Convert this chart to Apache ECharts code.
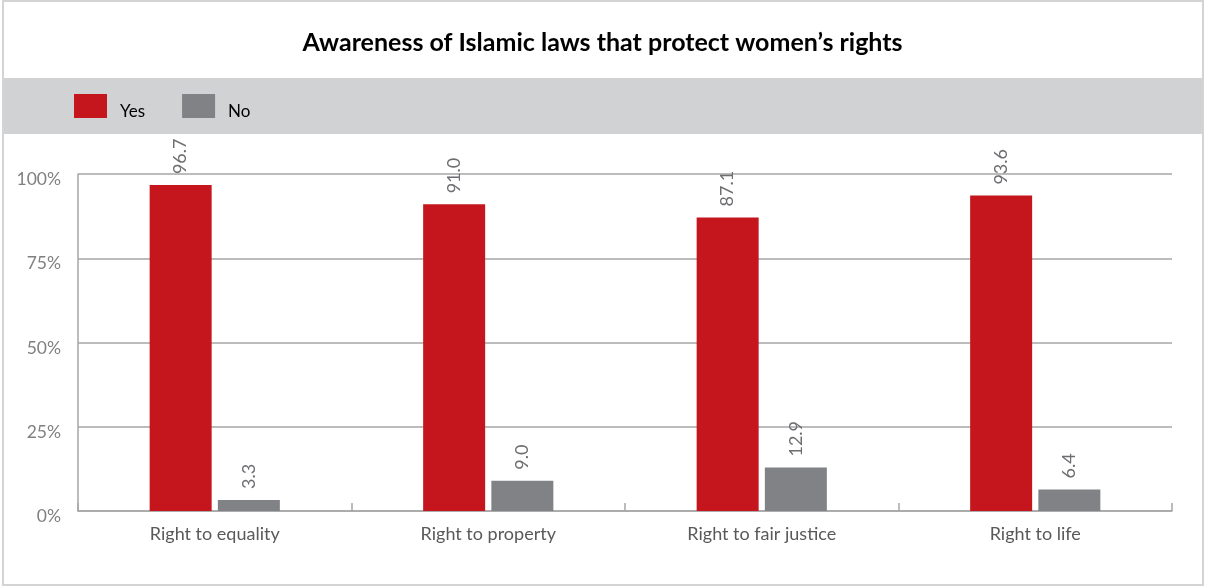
<!DOCTYPE html>
<html>
<head>
<meta charset="utf-8">
<script src="https://cdn.jsdelivr.net/npm/echarts@6/dist/echarts.min.js"></script>
<style>
  html, body { margin: 0; padding: 0; background: #fff; }
  #chart { width: 1205px; height: 587px; }
</style>
</head>
<body>
<div id="chart"></div>
<script>
// Survey: awareness of Islamic laws protecting women's rights (percent of respondents)
const categories = ['Right to equality', 'Right to property', 'Right to fair justice', 'Right to life'];
const yesValues = [96.7, 91.0, 87.1, 93.6];
const noValues = [3.3, 9.0, 12.9, 6.4];
const yTicks = [0, 25, 50, 75, 100];

const FONT = 'Lato, "Open Sans", sans-serif';

const chart = echarts.init(document.getElementById('chart'), null, { renderer: 'canvas' });

const valueLabel = {
  show: true,
  position: 'top',
  rotate: 90,
  align: 'left',
  verticalAlign: 'middle',
  distance: 11,
  color: '#6d6e71',
  fontFamily: FONT,
  fontSize: 18,
  formatter: p => p.value.toFixed(1)
};

chart.setOption({
  backgroundColor: '#ffffff',
  animation: false,
  title: {
    text: 'Awareness of Islamic laws that protect women\u2019s rights',
    left: 'center',
    top: 30,
    padding: 0,
    textStyle: { fontFamily: FONT, fontSize: 25, fontWeight: 'bold', color: '#000000' }
  },
  graphic: [
    {
      type: 'rect', z: -10, silent: true,
      shape: { x: 3, y: 1, width: 1200, height: 584 },
      style: { fill: '#ffffff', stroke: '#d4d4d4', lineWidth: 2 }
    },
    {
      type: 'rect', z: -5, silent: true,
      shape: { x: 4, y: 78, width: 1199, height: 56 },
      style: { fill: '#d1d2d4' }
    }
  ],
  legend: {
    data: ['Yes', 'No'],
    left: 74,
    top: 94,
    padding: 0,
    itemWidth: 33,
    itemHeight: 24,
    itemGap: 37,
    icon: 'rect',
    formatter: name => '{t|' + name + '}',
    textStyle: {
      fontFamily: FONT, fontSize: 17, color: '#000000',
      rich: {
        t: { fontFamily: FONT, fontSize: 17, color: '#000000', padding: [11, 0, 0, 8] }
      }
    }
  },
  grid: { left: 78, right: 33, top: 174, bottom: 76, containLabel: false },
  xAxis: {
    type: 'category',
    data: categories,
    axisLine: { lineStyle: { color: '#a6a6a6', width: 1.5 } },
    axisTick: { show: true, inside: true, length: 8, lineStyle: { color: '#a6a6a6', width: 1.5 } },
    axisLabel: { fontFamily: FONT, fontSize: 18, color: '#595959', margin: 14 }
  },
  yAxis: {
    type: 'value',
    min: 0,
    max: 100,
    interval: 25,
    axisLine: { show: true, lineStyle: { color: '#a6a6a6', width: 1.5 } },
    axisTick: { show: false },
    splitLine: { lineStyle: { color: '#a6a6a6', width: 1.5 } },
    axisLabel: {
      fontFamily: FONT, fontSize: 17.5, color: '#808080', margin: 17,
      verticalAlign: 'top',
      lineHeight: 11,
      formatter: v => (yTicks.includes(v) ? v + '%' : '')
    }
  },
  series: [
    {
      name: 'Yes', type: 'bar', data: yesValues,
      barWidth: 62, barGap: '10%',
      itemStyle: { color: '#c4161c' },
      label: valueLabel
    },
    {
      name: 'No', type: 'bar', data: noValues,
      barWidth: 62, barGap: '10%',
      itemStyle: { color: '#808285' },
      label: valueLabel
    }
  ]
});
</script>
</body>
</html>
